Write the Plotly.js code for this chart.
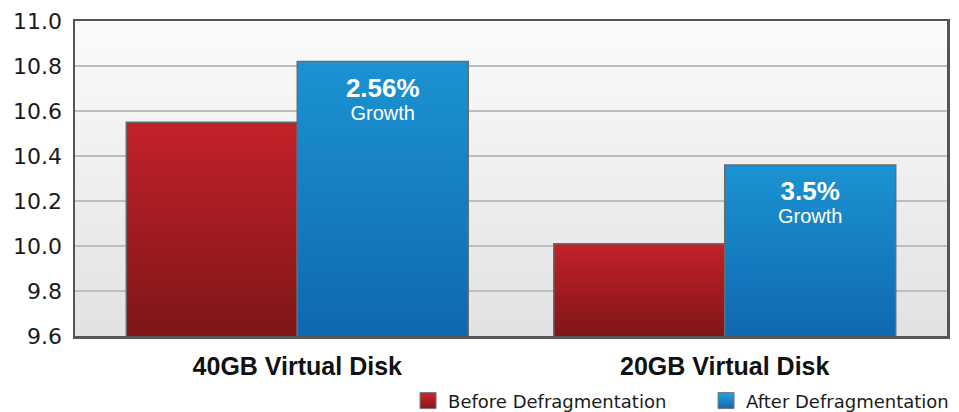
<!DOCTYPE html>
<html>
<head>
<meta charset="utf-8">
<script src="https://cdn.plot.ly/plotly-3.0.1.min.js"></script>
<style>
html,body{margin:0;padding:0;background:#fff;}
#chart{width:959px;height:412px;}
</style>
</head>
<body>
<div id="chart"></div>
<script>
const categories = ["40GB Virtual Disk", "20GB Virtual Disk"];
const beforeValues = [10.55, 10.01];
const afterValues = [10.82, 10.36];
const growthLabels = ["2.56%", "3.5%"];
const seriesNames = ["Before Defragmentation", "After Defragmentation"];
const yTicks = [9.6, 9.8, 10.0, 10.2, 10.4, 10.6, 10.8, 11.0];

const FONT = "Liberation Sans, Arial, Helvetica, sans-serif";
const WIDE = "DejaVu Sans, Verdana, sans-serif";

const traces = [
  {
    type: "bar",
    name: seriesNames[0],
    x: categories,
    y: beforeValues,
    marker: {color: "#a31b22", line: {color: "#6b6b6b", width: 1.5}},
    hoverinfo: "skip"
  },
  {
    type: "bar",
    name: seriesNames[1],
    x: categories,
    y: afterValues,
    text: growthLabels.map(g => "<span style='font-size:26px;font-weight:bold'>" + g + "</span><br><span style='font-size:20px'>Growth</span>"),
    textposition: "inside",
    insidetextanchor: "end",
    constraintext: "none",
    textfont: {color: "#ffffff", size: 18, family: FONT},
    marker: {color: "#1680c5", line: {color: "#6b6b6b", width: 1.5}},
    hoverinfo: "skip"
  }
];

const layout = {
  width: 959,
  height: 412,
  margin: {l: 75, r: 12, t: 21, b: 76},
  paper_bgcolor: "#ffffff",
  plot_bgcolor: "#eeeeee",
  barmode: "group",
  bargap: 0.2,
  bargroupgap: 0,
  font: {family: FONT, color: "#1a1a1a"},
  showlegend: true,
  legend: {
    orientation: "h",
    xref: "container",
    yref: "container",
    x: 0.4255,
    xanchor: "left",
    y: 0.027,
    yanchor: "middle",
    font: {size: 18, color: "#1a1a1a", family: WIDE},
    entrywidth: 253,
    entrywidthmode: "pixels",
    bgcolor: "rgba(0,0,0,0)"
  },
  xaxis: {
    type: "category",
    range: [-0.52, 1.52],
    tickfont: {size: 25, color: "#111111", family: FONT, weight: "bold"},
    ticks: "",
    showline: true,
    linecolor: "#555555",
    linewidth: 2.5,
    mirror: true,
    ticklabelstandoff: 6,
    showgrid: false,
    zeroline: false,
    fixedrange: true
  },
  yaxis: {
    range: [9.6, 11.0],
    tickvals: yTicks,
    tickformat: ".1f",
    tickfont: {size: 22, color: "#1a1a1a", family: WIDE},
    ticks: "",
    ticklabelstandoff: 6,
    showline: true,
    linecolor: "#555555",
    linewidth: 2.5,
    mirror: true,
    showgrid: true,
    gridcolor: "#bdbdbd",
    gridwidth: 1.5,
    zeroline: false,
    fixedrange: true
  }
};

const gd = document.getElementById("chart");
Plotly.newPlot(gd, traces, layout, {displayModeBar: false, staticPlot: true}).then(function () {
  const ns = "http://www.w3.org/2000/svg";
  const svg = gd.querySelector(".main-svg");
  let defs = svg.querySelector("defs");
  if (!defs) { defs = document.createElementNS(ns, "defs"); svg.insertBefore(defs, svg.firstChild); }
  function grad(id, top, bottom, y1, y2) {
    const g = document.createElementNS(ns, "linearGradient");
    g.setAttribute("id", id);
    if (y1 !== undefined) {
      g.setAttribute("gradientUnits", "userSpaceOnUse");
      g.setAttribute("x1", "0"); g.setAttribute("x2", "0");
      g.setAttribute("y1", String(y1)); g.setAttribute("y2", String(y2));
    } else {
      g.setAttribute("x1", "0"); g.setAttribute("y1", "0");
      g.setAttribute("x2", "0"); g.setAttribute("y2", "1");
    }
    [["0", top], ["1", bottom]].forEach(function (s) {
      const st = document.createElementNS(ns, "stop");
      st.setAttribute("offset", s[0]);
      st.setAttribute("stop-color", s[1]);
      g.appendChild(st);
    });
    defs.appendChild(g);
  }
  const plotH = gd._fullLayout._size.h;
  grad("gBg", "#fbfbfb", "#e1e2e3");
  gd.querySelector(".bglayer rect.bg").style.fill = "url(#gBg)";
  const palettes = [["#c42129", "#7f1518"], ["#1b93d3", "#0f68b0"]];
  gd.querySelectorAll(".barlayer .trace").forEach(function (tg, ti) {
    tg.querySelectorAll(".point path").forEach(function (p, pi) {
      const d = p.getAttribute("d") || "";
      const m = d.match(/V([-\d.]+)H/);
      const top = m ? parseFloat(m[1]) : 0;
      const id = "gBar" + ti + "_" + pi;
      grad(id, palettes[ti][0], palettes[ti][1], top, plotH);
      p.style.fill = "url(#" + id + ")";
    });
    tg.querySelectorAll("text").forEach(function (t) {
      const tr = t.getAttribute("transform") || "";
      t.setAttribute("transform", "translate(0,8) " + tr);
    });
  });
  grad("gRedL", "#d0252d", "#8a1619");
  grad("gBlueL", "#2aa0e0", "#0f68b0");
  gd.querySelectorAll(".legend .legendpoints path").forEach(function (p, i) {
    p.setAttribute("d", "M8,8H-8V-8H8Z");
    p.style.fill = i === 0 ? "url(#gRedL)" : "url(#gBlueL)";
    p.style.stroke = "#777777";
    p.style.strokeWidth = "1px";
  });
});
</script>
</body>
</html>
